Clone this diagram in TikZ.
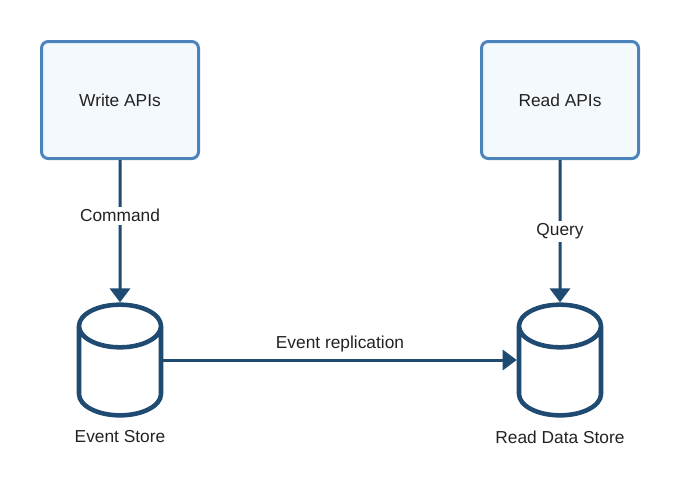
\documentclass[tikz,border=0pt]{standalone}
\usepackage{fontspec}
\setmainfont{Liberation Sans}
\usepackage{tikz}
\usetikzlibrary{arrows.meta}
\usetikzlibrary{positioning}
\usetikzlibrary{shapes.geometric}

\definecolor{apiedge}{HTML}{4A84BA}
\definecolor{apifill}{HTML}{F4F9FE}
\definecolor{storeblue}{HTML}{1F4B73}
\definecolor{inkgrey}{HTML}{222222}

\tikzset{
  api/.style={draw=apiedge, fill=apifill, line width=2.25pt, rounded corners=5pt,
    minimum width=117.75pt, minimum height=87.75pt, text=inkgrey},
  store/.style={cylinder, shape border rotate=90, aspect=0.52, draw=storeblue,
    fill=white, line width=3.4pt, inner xsep=30.75pt, inner ysep=0pt,
    minimum height=83pt, anchor=shape center},
  flow/.style={draw=storeblue, line width=2.25pt,
    -{Triangle[width=15pt,length=10.5pt]}},
  tag/.style={fill=white, text=inkgrey, inner sep=2pt},
}

\begin{document}
\begin{tikzpicture}[x=0.75pt, y=-0.75pt, font=\fontsize{13pt}{15pt}\selectfont]
  \useasboundingbox (0, 0) rectangle (680, 490);

  \node[api] at (120, 100) (write) {Write APIs};
  \node[api] at (560, 100) (read) {Read APIs};

  \node[store] at (120, 360) (events) {};
  \node[store] at (560, 360) (readdb) {};

  \node[text=inkgrey] at (120, 437) (eventslbl) {Event Store};
  \node[text=inkgrey] at (560, 437) (readdblbl) {Read Data Store};

  \draw[flow] (write) -- node[tag, pos=0.39] {Command} (events);
  \draw[flow] (read) -- node[tag, pos=0.5] {Query} (readdb);
  \draw[flow] (events.shape center -| events.east) -- node[above, text=inkgrey, inner sep=5pt] {Event replication} (readdb.shape center -| readdb.west);
\end{tikzpicture}
\end{document}
